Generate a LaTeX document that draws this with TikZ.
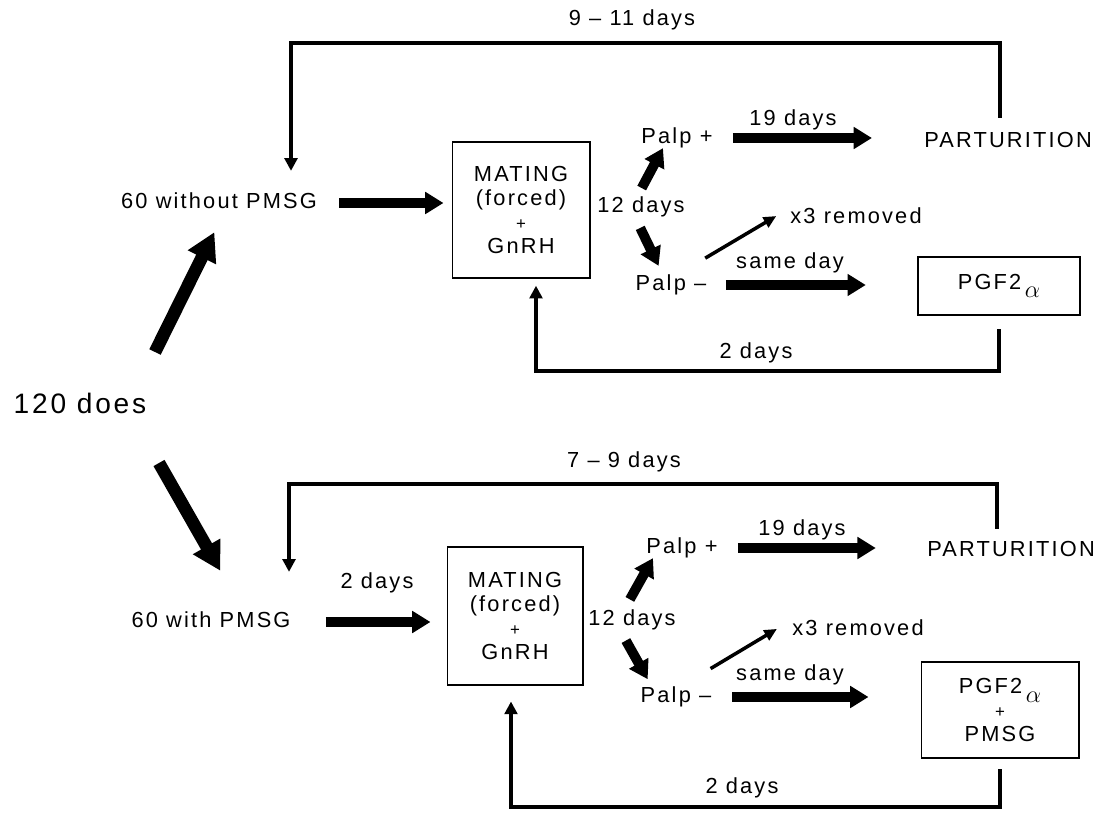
\documentclass[tikz,border=0pt]{standalone}
\usepackage{fontspec}
\setmainfont{Liberation Sans}[LetterSpace=10]
\usepackage{tikz}
\usetikzlibrary{shapes,arrows.meta,positioning}
\tikzstyle{block} = [rectangle, draw, line width=1.4pt, inner sep=0pt, align=center,
    font=\fontsize{15.5}{17}\selectfont]
\tikzstyle{txt} = [inner sep=0pt, text height=11pt, text depth=3pt, font=\fontsize{15.5}{18}\selectfont]
\tikzstyle{arr} = [draw, line width=7pt, -{Triangle[length=13pt, width=15pt]}]
\tikzstyle{bigarr} = [draw, line width=9pt, -{Triangle[length=20pt, width=21pt]}]
\tikzstyle{retline} = [draw, line width=3.5pt, -{Triangle[length=9pt, width=9pt]}]
\tikzstyle{slim} = [draw, line width=2.5pt, -{Triangle[length=9pt, width=8pt]}]
\newcommand{\prosta}{PGF2\,\raisebox{-0.4em}{\fontsize{17}{17}\selectfont$\alpha$}}
\newcommand{\plus}{{\fontsize{12}{17}\selectfont +}}

\begin{document}
\begin{tikzpicture}[x=0.025cm, y=-0.025cm]
    \useasboundingbox (0,0) rectangle (1106,813);

    % Place nodes
    \node [txt, font=\fontsize{20}{24}\selectfont] (does) at (80,408) {120 does};
    \coordinate (footA) at (155,352);
    \coordinate (footB) at (159,463);

    % upper branch
    \node [txt] (wo) at (219,203) {60 without PMSG};
    \node [block, minimum width=3.425cm, minimum height=3.375cm] (mateA) at (521,210) {MATING\\(forced)\\\plus\\GnRH};
    \node [txt] (twelveA) at (641,207) {12 days};
    \node [txt] (ppA) at (677,138) {Palp +};
    \node [txt] (pmA) at (671,285) {Palp –};
    \node [txt] (n19A) at (793,120) {19 days};
    \node [txt] (sameA) at (790,263) {same day};
    \node [txt] (partA) at (1008,142) {PARTURITION};
    \node [txt] (remA) at (856,218) {x3 removed};
    \node [block, minimum width=4.05cm, minimum height=1.45cm] (pgfA) at (999,286) {\prosta};
    \node [txt] (d911) at (632,20) {9 – 11 days};
    \node [txt] (twoA) at (756,353) {2 days};
    \coordinate (cornerA) at (291,43);
    \coordinate (backA) at (536,371);

    % lower branch
    \node [txt] (wi) at (211,622) {60 with PMSG};
    \node [txt] (twoB) at (377,583) {2 days};
    \node [block, minimum width=3.375cm, minimum height=3.425cm] (mateB) at (515,616) {MATING\\(forced)\\\plus\\GnRH};
    \node [txt] (twelveB) at (632,620) {12 days};
    \node [txt] (ppB) at (682,548) {Palp +};
    \node [txt] (pmB) at (676,697) {Palp –};
    \node [txt] (n19B) at (802,530) {19 days};
    \node [txt] (sameB) at (790,675) {same day};
    \node [txt] (partB) at (1011,551) {PARTURITION};
    \node [txt] (remB) at (858,630) {x3 removed};
    \node [block, minimum width=3.925cm, minimum height=2.4cm] (pgfB) at (1000,710) {\prosta\\\plus\\PMSG};
    \node [txt] (d79) at (624,462) {7 – 9 days};
    \node [txt] (twoC) at (742,788) {2 days};
    \coordinate (cornerB) at (289,484);
    \coordinate (backB) at (511,807);

    % Draw edges
    \path [bigarr, shorten >=0.53cm] (footA) -- ([xshift=0.12cm]wo.south);
    \path [bigarr, shorten >=1.18cm] (footB) -- ([xshift=0.62cm]wo.south |- wi.north);

    \path [arr, shorten <=0.55cm, shorten >=0.2cm] (wo.east) -- (wo.east -| mateA.west);
    \path [arr, shorten <=0.25cm] ([xshift=-0.1cm]twelveA.north) -- ([xshift=-0.35cm]ppA.south);
    \path [arr, shorten <=0.3cm, shorten >=0.25cm] ([xshift=-0.15cm]twelveA.south) -- ([xshift=-0.2cm]pmA.north);
    \path [arr, shorten <=0.5cm, shorten >=1.3cm] (ppA.east) -- (ppA.east -| partA.west);
    \path [arr, shorten <=0.48cm, shorten >=1.28cm] (pmA.east) -- (pmA.east -| pgfA.west);
    \path [slim, shorten <=0.82cm, shorten >=0.4cm] ([xshift=0.15cm]pmA.north) -- (remA.north west);
    \path [retline, shorten <=0.35cm, shorten >=0.55cm] ([xshift=-0.2cm]partA.north) |- (cornerA) -- (cornerA |- wo.north);
    \path [retline, shorten <=0.33cm, shorten >=0.18cm] (pgfA.south) |- (backA) -- (backA |- mateA.south);

    \path [arr, shorten <=0.875cm, shorten >=0.4cm] (wi.east) -- (wi.east -| mateB.west);
    \path [arr, shorten <=0.3cm] ([xshift=-0.2cm]twelveB.north) -- ([xshift=-0.725cm]ppB.south);
    \path [arr, shorten <=0.3cm, shorten >=0.22cm] ([xshift=-0.3cm]twelveB.south) -- ([xshift=-0.6cm]pmB.north);
    \path [arr, shorten <=0.5cm, shorten >=1.28cm] (ppB.east) -- (ppB.east -| partB.west);
    \path [arr, shorten <=0.52cm, shorten >=1.3cm] (pmB.east) -- (pmB.east -| pgfB.west);
    \path [slim, shorten <=0.89cm, shorten >=0.44cm] ([xshift=0.1cm]pmB.north) -- (remB.north west);
    \path [retline, shorten <=0.3cm, shorten >=1cm] ([xshift=-0.35cm]partB.north) |- (cornerB) -- (cornerB |- wi.north);
    \path [retline, shorten <=0.25cm, shorten >=0.4cm] (pgfB.south) |- (backB) -- (backB |- mateB.south);
\end{tikzpicture}
\end{document}
